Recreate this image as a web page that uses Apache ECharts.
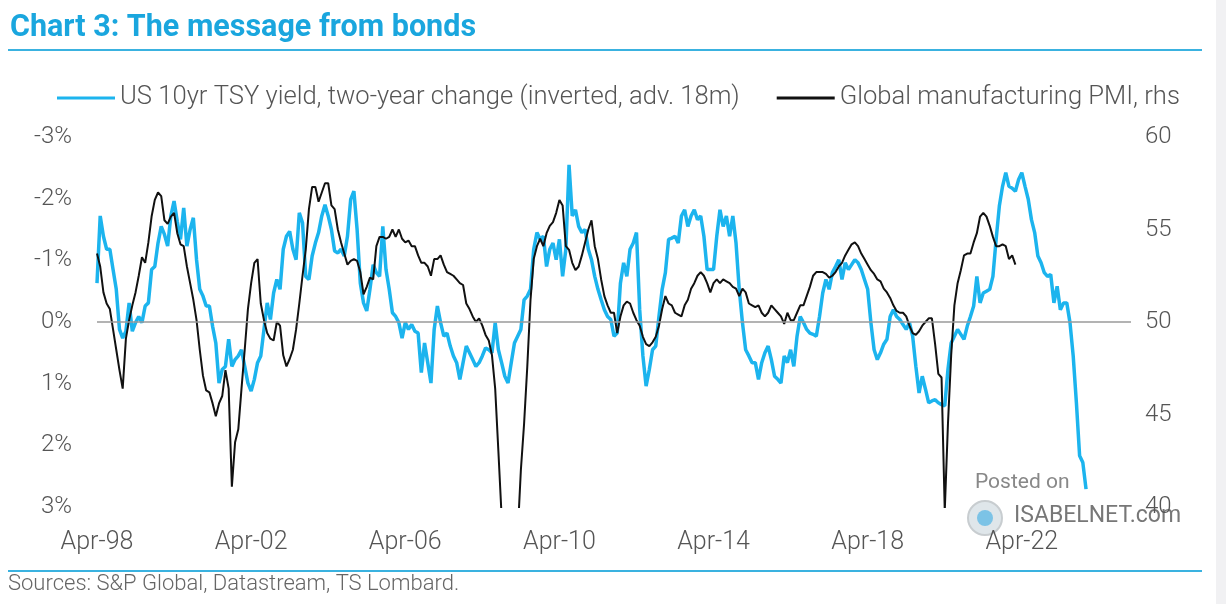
<!DOCTYPE html>
<html><head><meta charset="utf-8">
<script src="https://cdn.jsdelivr.net/npm/echarts@6/dist/echarts.min.js"></script>
<style>html,body{margin:0;padding:0;background:#fff}#c{width:1226px;height:604px}</style>
</head><body><div id="c"></div>
<script>
const chartTitle = 'Chart 3: The message from bonds';
const sourceText = 'Sources: S&P Global, Datastream, TS Lombard.';
const seriesNames = ['US 10yr TSY yield, two-year change (inverted, adv. 18m)', 'Global manufacturing PMI, rhs'];
const monthNames = ['Jan','Feb','Mar','Apr','May','Jun','Jul','Aug','Sep','Oct','Nov','Dec'];
const firstYear = 1998, firstMonthIdx = 3, monthCount = 323; // Apr-98 .. Feb-25
const xTickLabels = ['Apr-98','Apr-02','Apr-06','Apr-10','Apr-14','Apr-18','Apr-22'];
const leftAxis = {min: -3, max: 3, step: 1};
const rightAxis = {min: 40, max: 60, step: 5};

// US 10yr yield two-year change (inverted axis), monthly from Apr-98
const yieldChange = [
-0.63,-1.72,-1.39,-1.18,-1.18,-0.85,-0.53,0.12,0.26,0.15,
-0.31,0.15,0.01,-0.09,0.01,-0.26,-0.31,-0.85,-0.90,-1.28,
-1.55,-1.42,-1.23,-1.72,-1.96,-1.63,-1.34,-1.85,-1.23,-1.50,
-1.69,-1.01,-0.53,-0.42,-0.26,-0.26,0.07,0.34,0.99,0.77,
0.72,0.28,0.72,0.61,0.55,0.45,0.72,0.99,1.12,0.93,
0.66,0.55,0.12,-0.31,-0.04,-0.47,-0.69,-0.53,-1.18,-1.39,
-1.47,-1.18,-1.01,-1.77,-1.61,-0.74,-0.69,-1.07,-1.28,-1.45,
-1.72,-1.90,-1.72,-1.50,-1.15,-1.12,-1.18,-1.07,-1.39,-1.99,
-2.12,-1.50,-0.63,-0.31,-0.18,-0.53,-0.93,-0.80,-0.74,-1.55,
-0.85,-0.53,-0.15,-0.09,0.01,0.26,0.01,0.12,0.04,0.15,
0.18,0.82,0.34,0.66,0.99,0.12,-0.26,0.01,0.23,0.18,
0.39,0.55,0.66,0.93,0.66,0.39,0.50,0.61,0.72,0.66,
0.55,0.42,0.45,0.50,0.01,0.45,0.66,0.88,0.99,0.66,
0.34,0.23,0.12,-0.36,-0.42,-0.53,-1.18,-1.45,-1.34,-1.39,
-0.90,-1.18,-1.28,-1.01,-1.34,-0.74,-1.18,-2.55,-1.72,-1.82,
-1.55,-1.45,-1.50,-1.18,-1.01,-0.74,-0.53,-0.36,-0.20,-0.09,
-0.04,0.23,0.18,-0.63,-0.96,-0.74,-1.18,-1.28,-1.45,-0.20,
0.55,1.04,0.77,0.45,0.39,-0.09,-0.53,-0.80,-1.34,-1.36,
-1.39,-1.28,-1.72,-1.82,-1.55,-1.72,-1.82,-1.66,-1.72,-1.39,
-0.85,-0.85,-0.85,-1.39,-1.82,-1.55,-1.72,-1.39,-1.72,-1.28,
-0.53,0.01,0.45,0.55,0.66,0.66,0.93,0.66,0.50,0.39,
0.61,0.88,0.93,0.99,0.55,0.66,0.45,0.72,0.23,-0.09,
0.01,0.12,0.18,0.20,0.23,-0.09,-0.47,-0.69,-0.53,-0.80,
-0.90,-1.01,-0.69,-0.96,-0.85,-0.93,-1.01,-0.96,-0.85,-0.69,
-0.53,0.01,0.45,0.61,0.50,0.36,0.28,-0.09,-0.20,-0.09,
-0.04,0.04,0.12,0.01,0.23,0.72,1.15,0.88,1.09,1.31,
1.28,1.26,1.31,1.34,1.36,0.77,0.34,0.23,0.12,0.20,
0.28,0.07,-0.09,-0.26,-0.74,-0.31,-0.47,-0.50,-0.53,-0.74,
-1.34,-1.88,-2.20,-2.42,-2.20,-2.17,-2.12,-2.31,-2.42,-2.20,
-1.99,-1.66,-1.45,-1.07,-0.96,-0.80,-0.74,-0.77,-0.31,-0.58,
-0.20,-0.31,-0.31,0.01,0.55,1.31,2.17,2.28,2.71
];

// Global manufacturing PMI, monthly from Apr-98
const globalPMI = [
53.7,53.0,51.6,51.0,50.7,49.6,48.5,47.4,46.4,49.1,
50.1,50.9,51.6,52.5,53.5,53.2,54.3,55.7,56.6,57.0,
56.8,55.5,55.3,55.7,55.9,54.8,54.2,54.1,53.0,52.1,
51.2,50.1,48.5,47.1,46.3,46.2,45.6,44.9,45.6,46.0,
47.4,46.4,41.1,43.5,44.2,46.4,48.5,50.7,52.1,53.2,
53.4,51.0,50.1,49.4,49.1,49.0,50.0,49.8,48.2,47.6,
48.0,48.5,49.6,51.0,52.5,53.9,56.1,57.3,57.3,56.5,
57.0,57.5,57.5,56.3,56.1,55.0,54.3,53.7,53.1,53.3,
53.4,53.3,52.7,51.5,51.9,52.4,52.3,54.1,54.6,54.6,
54.5,54.6,55.0,54.6,55.0,54.5,54.3,54.4,54.1,54.1,
53.6,53.2,53.2,53.0,52.5,53.4,53.4,53.6,53.1,52.7,
52.6,52.5,52.3,52.1,52.0,51.0,50.7,50.3,50.0,50.2,
49.8,49.3,49.0,48.2,46.4,43.0,39.5,36.5,34.0,34.5,
35.5,38.5,42.0,44.5,47.6,51.2,53.4,54.1,54.5,54.1,
54.8,55.2,55.4,55.9,56.6,56.3,54.1,53.9,53.2,52.8,
53.0,53.6,54.3,55.0,55.5,54.1,53.4,52.3,51.4,50.9,
50.5,50.5,49.4,50.3,50.9,51.1,51.0,50.5,50.1,49.8,
49.2,48.8,48.7,48.9,49.2,49.8,50.7,51.4,51.0,50.9,
50.5,50.4,50.3,50.9,51.2,51.8,52.1,52.5,52.7,52.5,
52.1,51.6,52.1,52.3,52.1,52.3,52.2,52.1,51.9,51.8,
51.4,51.8,51.6,51.0,50.9,50.8,50.9,50.5,50.3,50.5,
50.9,50.7,50.5,50.3,49.9,50.5,50.1,50.1,50.5,50.9,
50.9,51.4,51.9,52.5,52.7,52.7,52.7,52.6,52.4,52.5,
52.7,53.0,53.2,53.6,53.9,54.2,54.3,54.1,53.7,53.4,
53.1,52.8,52.6,52.3,52.2,51.8,51.6,51.3,50.9,50.6,
50.5,50.5,50.3,49.8,49.4,49.3,49.5,49.8,50.0,50.2,
50.2,48.8,47.2,47.0,39.8,44.5,48.2,50.9,52.1,52.8,
53.6,53.7,53.7,54.3,54.8,55.7,55.9,55.7,55.2,54.6,
54.1,54.1,54.2,54.1,53.4,53.6,53.1
];

const categories = [];
for (let i = 0; i < monthCount; i++) {
  const mi = (firstMonthIdx + i) % 12;
  const yr = firstYear + Math.floor((firstMonthIdx + i) / 12);
  categories.push(monthNames[mi] + '-' + String(yr % 100).padStart(2, '0'));
}

const FONT = 'Roboto, "Noto Sans", sans-serif';
const BLUE = '#1cb4ee';
const TXT = '#555';
const chart = echarts.init(document.getElementById('c'), null, {renderer: 'canvas'});
chart.setOption({
  animation: false,
  backgroundColor: '#ffffff',
  title: {
    text: chartTitle, left: 5, top: 8,
    textStyle: {fontFamily: FONT, fontSize: 30.5, fontWeight: 'bold', color: '#1aa6de'}
  },
  legend: {
    top: 80, left: 52, icon: 'rect', itemWidth: 58, itemHeight: 3, itemGap: 37,
    textStyle: {fontFamily: FONT, fontSize: 25.6, fontWeight: 300, color: TXT},
    data: seriesNames
  },
  grid: {left: 97, right: 95, top: 137, bottom: 97, containLabel: false},
  xAxis: {
    type: 'category', data: categories, boundaryGap: false,
    axisLine: {show: false}, axisTick: {show: false}, splitLine: {show: false},
    axisLabel: {
      interval: (idx, val) => xTickLabels.indexOf(val) >= 0,
      margin: 23, fontFamily: FONT, fontSize: 25, fontWeight: 300, color: TXT
    }
  },
  yAxis: [
    {
      type: 'value', inverse: true, min: leftAxis.min, max: leftAxis.max, interval: leftAxis.step,
      axisLine: {show: false}, axisTick: {show: false}, splitLine: {show: false},
      axisLabel: {formatter: '{value}%', margin: 25, fontFamily: FONT, fontSize: 24, fontWeight: 300, color: TXT}
    },
    {
      type: 'value', position: 'right', min: rightAxis.min, max: rightAxis.max, interval: rightAxis.step,
      axisLine: {show: false}, axisTick: {show: false}, splitLine: {show: false},
      axisLabel: {margin: 14, fontFamily: FONT, fontSize: 24, fontWeight: 300, color: TXT}
    }
  ],
  series: [
    {
      name: seriesNames[0], type: 'line', yAxisIndex: 0, data: yieldChange,
      symbol: 'none', showSymbol: false, clip: true,
      lineStyle: {width: 3.5, color: BLUE}, itemStyle: {color: BLUE},
      markLine: {
        silent: true, symbol: ['none', 'none'], label: {show: false},
        lineStyle: {color: '#9a9a9a', width: 1.5, type: 'solid'},
        data: [{yAxis: 0}]
      },
      z: 2
    },
    {
      name: seriesNames[1], type: 'line', yAxisIndex: 1, data: globalPMI,
      symbol: 'none', showSymbol: false, clip: true,
      lineStyle: {width: 2, color: '#111111'}, itemStyle: {color: '#111111'},
      z: 3
    }
  ],
  graphic: [
    {type: 'line', shape: {x1: 8, y1: 50, x2: 1202, y2: 50}, style: {stroke: '#3ab2e0', lineWidth: 2}},
    {type: 'line', shape: {x1: 8, y1: 571, x2: 1202, y2: 571}, style: {stroke: '#3ab2e0', lineWidth: 2}},
    {type: 'text', left: 8, top: 573, style: {text: sourceText, fill: '#666', font: '300 22px ' + FONT}},
    {type: 'rect', shape: {x: 1216, y: 0, width: 10, height: 604}, style: {fill: '#f1f1f3'}},
    {type: 'text', left: 975, top: 472, style: {text: 'Posted on', fill: '#888', font: '21px ' + FONT}},
    {type: 'circle', shape: {cx: 985, cy: 518, r: 17}, style: {fill: '#dfe6ea', stroke: '#c8cdd0', lineWidth: 2}},
    {type: 'circle', shape: {cx: 985, cy: 518, r: 8}, style: {fill: '#7cc3e6'}},
    {type: 'text', left: 1014, top: 505, style: {text: 'ISABELNET.com', fill: '#777', font: '23px ' + FONT}}
  ]
});
</script>
</body></html>
